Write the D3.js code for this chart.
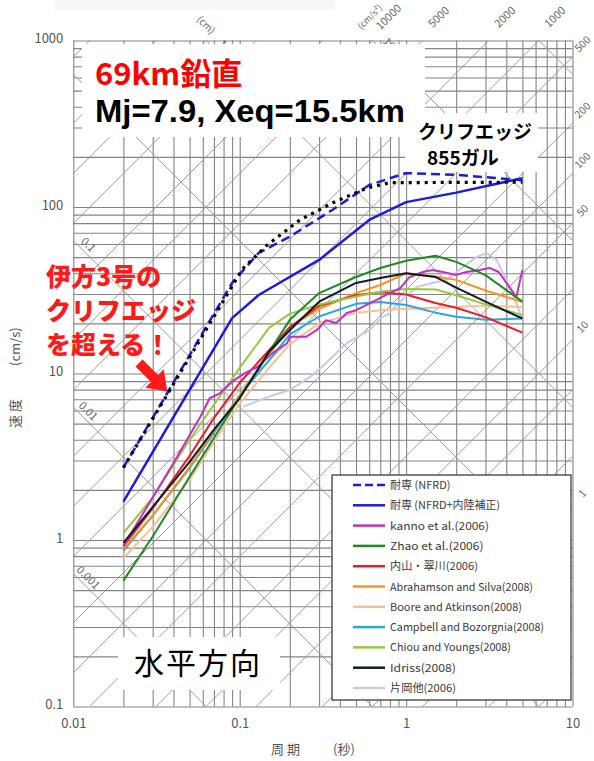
<!DOCTYPE html>
<html>
<head>
<meta charset="utf-8">
<script src="https://cdn.jsdelivr.net/npm/d3@7"></script>
<style>
  body { margin: 0; background: #fff; }
  svg { display: block; }
</style>
</head>
<body>
<svg id="chart" width="594" height="761"></svg>
<script>
// ---- Data -------------------------------------------------------------
// Periods (s) shared by the smooth attenuation-relation curves
const periodsGmpe = [0.02, 0.03, 0.05, 0.07, 0.1, 0.15, 0.2, 0.3, 0.5, 0.7, 1, 1.5, 2, 3, 5];

// Pseudo-velocity response (cm/s) on periodsGmpe
const zhaoV     = [0.57, 1.05, 2.4, 4.1, 7.2, 13.4, 21, 30.4, 38, 43, 47.5, 51, 46.8, 39, 27];
const uchiyamaV = [0.92, 1.55, 3.2, 5.4, 8.8, 13.8, 19, 25.5, 29.5, 30.8, 29.8, 26.5, 24.8, 21.8, 17.6];
const abrahamsonV = [0.88, 1.4, 2.75, 4.5, 7.4, 13, 19, 24.5, 30.4, 34, 40, 38.3, 36.5, 31.5, 26.9];
const booreV    = [0.78, 1.2, 2.3, 3.9, 6.6, 10.8, 15, 20, 23.2, 24, 24.5, 24.8, 25.1, 25.6, 25.1];
const campbellV = [0.86, 1.4, 2.7, 4.4, 7.4, 12, 17.2, 22, 26.2, 26.9, 25.8, 23.2, 21.9, 21, 21.4];
const chiouV    = [1.1, 1.8, 4.0, 6.5, 10.8, 18.8, 22.8, 26, 29, 31, 32.2, 32, 29.5, 26, 22.5];
const idrissV   = [0.96, 1.58, 2.95, 4.6, 7.1, 13.5, 18.2, 27, 35, 37.5, 40, 38, 32.8, 27, 21.4];

// Kanno et al. (2006)
const kannoT = [0.02, 0.04, 0.058, 0.066, 0.076, 0.092, 0.11, 0.127, 0.158, 0.193, 0.2, 0.25, 0.29, 0.33, 0.38, 0.44, 0.5, 0.66, 0.8, 0.92, 1.05, 1.26, 1.44, 1.66, 2.0, 2.3, 2.77, 3.17, 3.6, 4.2, 4.6, 5.0];
const kannoV = [0.92, 2.9, 5.5, 7.1, 7.6, 9.1, 10.2, 10.9, 13.3, 15.2, 16.6, 16.6, 18.2, 20.9, 20.1, 23.1, 24, 27.6, 30.5, 32.5, 38, 40.7, 41.9, 40.7, 39.1, 40.7, 41.9, 43.1, 40.7, 32.8, 28.8, 41.9];

// 片岡他 (2006)
const kataokaT = [0.105, 0.146, 0.2, 0.264, 0.31, 0.44, 0.6, 0.72, 0.78, 0.92, 1.16, 1.44, 1.75, 2.2, 2.65, 3.05, 3.5, 4.0, 4.6, 5.0];
const kataokaV = [6.3, 7.2, 7.96, 9.5, 10.9, 15.2, 18.2, 21.9, 22.6, 27, 33.1, 35, 36.5, 43.6, 50.1, 52.9, 48.1, 36.5, 26.3, 20.9];

// 耐専スペクトル
const nfrdT = [0.02, 0.09, 0.13, 0.2, 0.36, 0.6, 1.0, 2.0, 5.0];
const nfrdV = [2.72, 35, 53, 66.4, 96, 135.5, 160, 156, 145];
const nfrdInlandT = [0.02, 0.09, 0.13, 0.3, 0.6, 1.0, 2.0, 5.0];
const nfrdInlandV = [1.7, 21.5, 29.6, 48.1, 83.6, 107, 122, 149];

// Cliff-edge spectrum (855 gal)
const cliffT = [0.02, 0.104, 0.146, 0.23, 0.363, 0.58, 0.8, 5.0];
const cliffV = [2.72, 42.5, 59, 83.6, 106, 130, 140, 141];

// Axis ticks and tripartite labels
const periodTicks = [0.01, 0.1, 1, 10];
const periodTickLabels = ["0.01", "0.1", "1", "10"];
const velocityTicks = [0.1, 1, 10, 100, 1000];
const velocityTickLabels = ["0.1", "1", "10", "100", "1000"];
const accelTopLabels = [10000, 5000, 2000, 1000];
const accelRightLabels = [500, 200, 100, 50, 10, 1];
const dispLeftLabels = [1, 0.1, 0.01, 0.001];
const dispTopLabels = [10, 100];

// ---- Layout -----------------------------------------------------------
const plot = { l: 73.3, r: 572.5, t: 40.5, b: 706.5 };
const TWO_PI = 2 * Math.PI;
const FONT = "'Noto Sans CJK JP', 'Noto Sans', sans-serif";

const x = d3.scaleLog().domain([0.01, 10]).range([plot.l, plot.r]);
const y = d3.scaleLog().domain([0.1, 1000]).range([plot.b, plot.t]);

const svg = d3.select("#chart");
svg.append("rect").attr("width", 594).attr("height", 761).attr("fill", "#fff");
svg.append("rect").attr("x", 55).attr("y", 0).attr("width", 280).attr("height", 10).attr("fill", "#f6f6f6");

svg.append("defs").append("clipPath").attr("id", "plotClip")
  .append("rect")
  .attr("x", plot.l).attr("y", plot.t)
  .attr("width", plot.r - plot.l).attr("height", plot.b - plot.t);

// log grid values 1..9 per decade
const decadeGrid = (lo, hi) => d3.range(lo, hi).flatMap(k => d3.range(1, 10).map(m => +(m * Math.pow(10, k)).toPrecision(3)));
const gridT = decadeGrid(-2, 1).concat([10]);
const gridV = decadeGrid(-1, 3).concat([1000]);

// ---- Rectangular grid through the axes --------------------------------
const xLabel = new Map(periodTicks.map((t, i) => [t, periodTickLabels[i]]));
const yLabel = new Map(velocityTicks.map((t, i) => [t, velocityTickLabels[i]]));

const xAxis = d3.axisBottom(x).tickValues(gridT)
  .tickSize(-(plot.b - plot.t)).tickPadding(12)
  .tickFormat(d => xLabel.get(d) || "");
const yAxis = d3.axisLeft(y).tickValues(gridV)
  .tickSize(-(plot.r - plot.l)).tickPadding(10)
  .tickFormat(d => yLabel.get(d) || "");

function styleAxis(g) {
  g.select(".domain").remove();
  g.selectAll(".tick line").attr("stroke", "#848484").attr("stroke-width", 1.1);
  g.selectAll(".tick text").attr("fill", "#555").attr("font-size", 13).attr("font-family", FONT);
}
svg.append("g").attr("transform", `translate(0,${plot.b})`).call(xAxis).call(styleAxis);
svg.append("g").attr("transform", `translate(${plot.l},0)`).call(yAxis).call(styleAxis)
  .selectAll(".tick text").attr("dy", "0.18em");

// ---- Diagonal grid: acceleration (cm/s², 1-2-5) and displacement (cm, decades)
const series125 = (lo, hi) => d3.range(lo, hi + 1).flatMap(k => [1, 2, 5].map(m => +(m * Math.pow(10, k)).toPrecision(3)));
const accelLines = series125(-2, 5);
const dispLines = d3.range(-4, 4).map(k => +Math.pow(10, k).toPrecision(3));
const diag = svg.append("g").attr("clip-path", "url(#plotClip)");
const diagLine = d3.line().x(d => x(d[0])).y(d => y(d[1]));
const tEnds = [0.01, 10];

diag.selectAll(".acc").data(accelLines).join("path")
  .attr("d", a => diagLine(tEnds.map(t => [t, a * t / TWO_PI])))
  .attr("fill", "none").attr("stroke", "#9a9a9a").attr("stroke-width", 1);
diag.selectAll(".disp").data(dispLines).join("path")
  .attr("d", dd => diagLine(tEnds.map(t => [t, TWO_PI * dd / t])))
  .attr("fill", "none").attr("stroke", "#9a9a9a").attr("stroke-width", 1);

// Diagonal labels
const diagText = svg.append("g").attr("font-family", FONT).attr("font-size", 11)
  .attr("fill", "#666").attr("text-anchor", "middle");
accelTopLabels.forEach(a => {
  const cx = x(TWO_PI * 1000 / a) + 16, cy = 17;
  diagText.append("text").attr("transform", `translate(${cx},${cy}) rotate(-45)`).attr("dy", "0.35em").text(a);
});
diagText.append("text").attr("transform", "translate(370,17) rotate(-45)").attr("dy", "0.35em")
  .attr("font-size", 9).text("(cm/s²)");
accelRightLabels.forEach(a => {
  const cy = y(a * 10 / TWO_PI) - 13;
  diagText.append("text").attr("transform", `translate(${plot.r + 10},${cy}) rotate(-45)`).attr("dy", "0.35em")
    .attr("font-size", 10.5).text(a);
});
dispLeftLabels.forEach(dv => {
  const cy = y(TWO_PI * dv / 0.01) + 4;
  diagText.append("text").attr("transform", `translate(${plot.l + 15},${cy}) rotate(45)`).attr("dy", "0.35em").text(dv);
});
dispTopLabels.forEach(dv => {
  const cx = x(TWO_PI * dv / 1000) + 19;
  diagText.append("text").attr("transform", `translate(${cx},46) rotate(45)`).attr("dy", "0.35em").text(dv);
});
diagText.append("text").attr("transform", "translate(206,25) rotate(45)").attr("dy", "0.35em")
  .attr("font-size", 10).text("(cm)");

// ---- Spectra ----------------------------------------------------------
const curves = [
  { name: "片岡他(2006)", color: "#c9c9e2", T: kataokaT, V: kataokaV, w: 2 },
  { name: "Boore and Atkinson(2008)", color: "#fbbf92", T: periodsGmpe, V: booreV, w: 2 },
  { name: "Campbell and Bozorgnia(2008)", color: "#25a8df", T: periodsGmpe, V: campbellV, w: 2 },
  { name: "Abrahamson and Silva(2008)", color: "#f7941d", T: periodsGmpe, V: abrahamsonV, w: 2 },
  { name: "内山・翠川(2006)", color: "#ed1c24", T: periodsGmpe, V: uchiyamaV, w: 2 },
  { name: "Chiou and Youngs(2008)", color: "#99c83a", T: periodsGmpe, V: chiouV, w: 2 },
  { name: "kanno et al.(2006)", color: "#c42ec4", T: kannoT, V: kannoV, w: 2 },
  { name: "Zhao et al.(2006)", color: "#1e8a24", T: periodsGmpe, V: zhaoV, w: 2 },
  { name: "Idriss(2008)", color: "#101c2c", T: periodsGmpe, V: idrissV, w: 2 },
  { name: "耐専 (NFRD+内陸補正)", color: "#1c1cdc", T: nfrdInlandT, V: nfrdInlandV, w: 2.5 },
  { name: "耐専 (NFRD)", color: "#1c1cdc", T: nfrdT, V: nfrdV, w: 2.5, dash: "9,5" },
  { name: "cliff", color: "#000", T: cliffT, V: cliffV, w: 3.2, dash: "3,5" }
];

const specLine = d3.line().x(d => x(d[0])).y(d => y(d[1]));
const specG = svg.append("g").attr("clip-path", "url(#plotClip)");
curves.forEach(c => {
  specG.append("path")
    .attr("d", specLine(c.T.map((t, i) => [t, c.V[i]])))
    .attr("fill", "none").attr("stroke", c.color).attr("stroke-width", c.w)
    .attr("stroke-linejoin", "round")
    .attr("stroke-dasharray", c.dash || null);
});

// ---- Axis titles -------------------------------------------------------
const axisTitle = svg.append("g").attr("font-family", FONT).attr("font-size", 13).attr("fill", "#555");
axisTitle.append("text").attr("x", 271).attr("y", 754).text("周 期");
axisTitle.append("text").attr("x", 333).attr("y", 754).text("(秒)");
axisTitle.append("text").attr("transform", "translate(20,428) rotate(-90)").text("速 度");
axisTitle.append("text").attr("transform", "translate(20,366) rotate(-90)").text("(cm/s)");

// ---- Legend -----------------------------------------------------------
const legendItems = [
  { name: "耐専 (NFRD)", color: "#1c1cdc", dash: "8,4" },
  { name: "耐専 (NFRD+内陸補正)", color: "#1c1cdc" },
  { name: "kanno et al.(2006)", color: "#c42ec4" },
  { name: "Zhao et al.(2006)", color: "#1e8a24" },
  { name: "内山・翠川(2006)", color: "#ed1c24" },
  { name: "Abrahamson and Silva(2008)", color: "#f7941d" },
  { name: "Boore and Atkinson(2008)", color: "#fbbf92" },
  { name: "Campbell and Bozorgnia(2008)", color: "#25a8df" },
  { name: "Chiou and Youngs(2008)", color: "#99c83a" },
  { name: "Idriss(2008)", color: "#101c2c" },
  { name: "片岡他(2006)", color: "#c9c9e2" }
];
const leg = svg.append("g");
leg.append("rect").attr("x", 332).attr("y", 475).attr("width", 239).attr("height", 225)
  .attr("fill", "#fff").attr("stroke", "#555").attr("stroke-width", 1.5);
const textWidth = s => Array.from(s).reduce((w, ch) => w + (ch.charCodeAt(0) < 256 ? 5.5 : 11), 0);
legendItems.forEach((it, i) => {
  const ly = 485 + i * 20.3;
  leg.append("line").attr("x1", 353).attr("x2", 385).attr("y1", ly).attr("y2", ly)
    .attr("stroke", it.color).attr("stroke-width", 2.5).attr("stroke-dasharray", it.dash || null);
  leg.append("text").attr("x", 390).attr("y", ly + 4).attr("font-family", FONT)
    .attr("font-size", 11).attr("fill", "#3a3a3a")
    .attr("textLength", textWidth(it.name)).attr("lengthAdjust", "spacingAndGlyphs")
    .text(it.name);
});

// ---- Annotations ------------------------------------------------------
const note = svg.append("g").attr("font-family", FONT);
note.append("rect").attr("x", 82).attr("y", 44).attr("width", 343).attr("height", 93).attr("fill", "#fff");
note.append("text").attr("x", 95).attr("y", 85).attr("font-size", 31).attr("font-weight", 700)
  .attr("fill", "#ff0000").text("69km鉛直");
note.append("text").attr("x", 95).attr("y", 122).attr("font-size", 32).attr("font-weight", 700)
  .attr("font-family", "'Liberation Sans', Arial, sans-serif")
  .attr("fill", "#000").attr("textLength", 310).attr("lengthAdjust", "spacingAndGlyphs")
  .text("Mj=7.9, Xeq=15.5km");

note.append("rect").attr("x", 405).attr("y", 113).attr("width", 133).attr("height", 59).attr("fill", "#fff");
note.append("text").attr("x", 418).attr("y", 139).attr("font-size", 19).attr("font-weight", 700)
  .attr("fill", "#000").text("クリフエッジ");
note.append("text").attr("x", 427).attr("y", 165).attr("font-size", 19).attr("font-weight", 700)
  .attr("fill", "#000").text("855ガル");

const redLines = ["伊方3号の", "クリフエッジ", "を超える！"];
redLines.forEach((s, i) => {
  note.append("text").attr("x", 46).attr("y", 286 + i * 34).attr("font-size", 25)
    .attr("font-weight", 900).attr("fill", "#ff1a1a").text(s);
});
// block arrow pointing down-right
note.append("path")
  .attr("d", "M0,-5 L22,-5 L22,-13 L40,0 L22,13 L22,5 L0,5 Z")
  .attr("transform", "translate(139,363) rotate(45)")
  .attr("fill", "#ff1a1a");

note.append("rect").attr("x", 118).attr("y", 637).attr("width", 162).attr("height", 53).attr("fill", "#fff");
note.append("text").attr("x", 134).attr("y", 674).attr("font-size", 30).attr("letter-spacing", 2)
  .attr("fill", "#000").text("水平方向");
</script>
</body>
</html>
